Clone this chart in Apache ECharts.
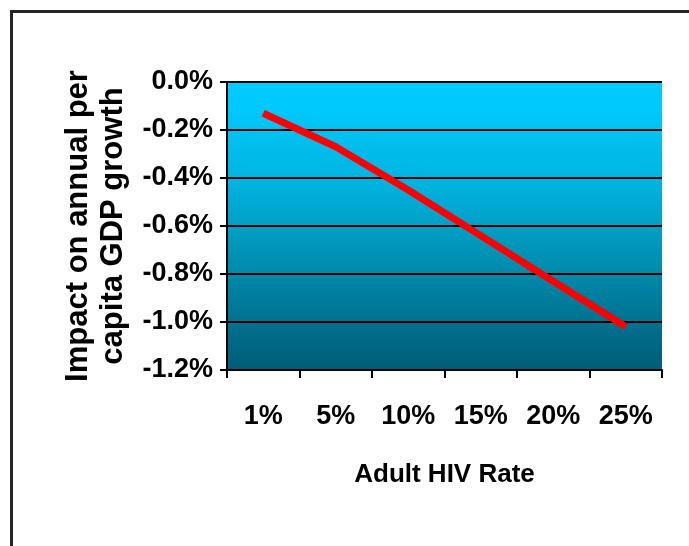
<!DOCTYPE html>
<html>
<head>
<meta charset="utf-8">
<title>HIV and GDP growth</title>
<script src="https://cdn.jsdelivr.net/npm/echarts@6/dist/echarts.min.js"></script>
<style>
  html, body { margin: 0; padding: 0; background: #fff; }
  #chart { width: 689px; height: 546px; }
</style>
</head>
<body>
<div id="chart"></div>
<script>
// data
const hivRates = ['1%', '5%', '10%', '15%', '20%', '25%']
const gdpImpact = [-0.13, -0.27, -0.45, -0.64, -0.83, -1.02]
const yMin = -1.2
const yMax = 0
const yStep = 0.2

const font = "'Liberation Sans', Arial, sans-serif"

const chart = echarts.init(document.getElementById('chart'))

const option = {
  animation: false,
  textStyle: { fontFamily: font },
  // outer frame of the picture
  graphic: [
    {
      type: 'rect',
      left: 9,
      top: 9,
      shape: { width: 720, height: 600 },
      style: { fill: 'none', stroke: '#262626', lineWidth: 3 },
      silent: true
    }
  ],
  grid: {
    left: 227,
    right: 27,
    top: 82,
    bottom: 176,
    show: true,
    borderWidth: 0,
    backgroundColor: new echarts.graphic.LinearGradient(0, 0, 0, 1, [
      { offset: 0, color: '#00ccff' },
      { offset: 0.1, color: '#00c8fa' },
      { offset: 0.35, color: '#00b3e0' },
      { offset: 0.6, color: '#0092b5' },
      { offset: 0.85, color: '#006f8d' },
      { offset: 1, color: '#005d77' }
    ])
  },
  xAxis: {
    type: 'category',
    data: hivRates,
    boundaryGap: true,
    name: 'Adult HIV Rate',
    nameLocation: 'middle',
    nameGap: 92,
    nameTextStyle: { color: '#000', fontSize: 26, fontWeight: 'bold', fontFamily: font },
    axisLine: { onZero: false, lineStyle: { color: '#000', width: 2 } },
    axisTick: { show: true, length: 8, lineStyle: { color: '#000', width: 2 } },
    axisLabel: { color: '#000', fontSize: 27, fontWeight: 'bold', margin: 33, fontFamily: font },
    splitLine: { show: false }
  },
  yAxis: {
    type: 'value',
    min: yMin,
    max: yMax,
    interval: yStep,
    name: 'Impact on annual per\ncapita GDP growth',
    nameLocation: 'middle',
    nameGap: 96,
    nameRotate: 90,
    nameTextStyle: {
      color: '#000',
      fontSize: 31,
      fontWeight: 'bold',
      lineHeight: 35,
      fontFamily: font
    },
    axisLine: { show: true, lineStyle: { color: '#000', width: 2 } },
    axisTick: { show: true, length: 7, lineStyle: { color: '#000', width: 2 } },
    axisLabel: {
      color: '#000',
      fontSize: 27,
      fontWeight: 'bold',
      margin: 14,
      fontFamily: font,
      formatter: v => v.toFixed(1) + '%'
    },
    splitLine: { show: true, lineStyle: { color: '#000', width: 2 } }
  },
  series: [
    {
      type: 'line',
      data: gdpImpact,
      showSymbol: false,
      symbol: 'none',
      lineStyle: { color: '#ff0000', width: 7 },
      z: 5
    }
  ]
}

chart.setOption(option)
</script>
</body>
</html>
